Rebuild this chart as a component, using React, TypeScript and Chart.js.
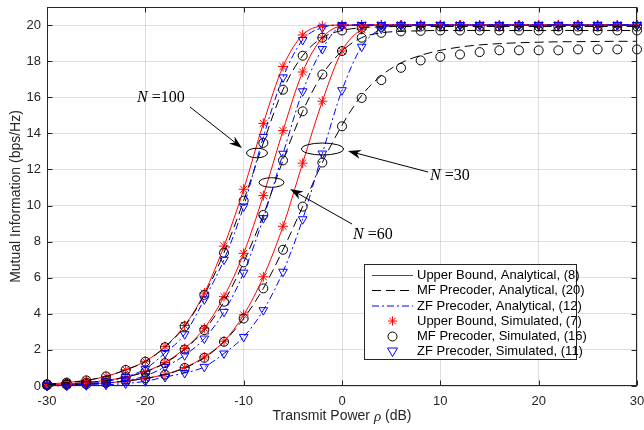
import React, { useEffect, useRef } from "react";
import { Chart, registerables } from "chart.js";
Chart.register(...registerables);

// Transmit power (dB)
const xValues = [-30, -28, -26, -24, -22, -20, -18, -16, -14, -12, -10, -8, -6, -4, -2, 0, 2, 4, 6, 8, 10, 12, 14, 16, 18, 20, 22, 24, 26, 28, 30];

// N = 100
const ub100 = [0.1, 0.19, 0.31, 0.53, 0.9, 1.37, 2.18, 3.35, 5.15, 7.75, 10.9, 14.55, 17.7, 19.45, 19.95, 20, 20, 20, 20, 20, 20, 20, 20, 20, 20, 20, 20, 20, 20, 20, 20];
const mf100 = [0.1, 0.19, 0.31, 0.53, 0.89, 1.35, 2.15, 3.3, 5.05, 7.38, 10.27, 13.47, 16.42, 18.3, 19.3, 19.7, 19.85, 19.9, 19.92, 19.92, 19.92, 19.92, 19.92, 19.92, 19.92, 19.92, 19.92, 19.92, 19.92, 19.92, 19.92];
const zf100 = [0.03, 0.06, 0.12, 0.25, 0.5, 0.95, 1.83, 2.87, 4.8, 7.0, 9.95, 13.8, 17.1, 19.17, 19.86, 20, 20, 20, 20, 20, 20, 20, 20, 20, 20, 20, 20, 20, 20, 20, 20];

// N = 60
const ub60 = [0.07, 0.12, 0.19, 0.31, 0.5, 0.8, 1.3, 2.08, 3.2, 4.95, 7.35, 10.55, 14.15, 17.4, 19.3, 19.95, 20, 20, 20, 20, 20, 20, 20, 20, 20, 20, 20, 20, 20, 20, 20];
const mf60 = [0.07, 0.12, 0.19, 0.3, 0.49, 0.78, 1.27, 2.02, 3.1, 4.67, 6.85, 9.48, 12.5, 15.22, 17.26, 18.56, 19.3, 19.57, 19.65, 19.68, 19.7, 19.7, 19.7, 19.7, 19.7, 19.7, 19.7, 19.7, 19.7, 19.7, 19.7];
const zf60 = [0.02, 0.04, 0.08, 0.15, 0.3, 0.55, 1.06, 1.7, 2.63, 4.11, 6.28, 9.3, 12.87, 16.33, 18.67, 19.94, 20, 20, 20, 20, 20, 20, 20, 20, 20, 20, 20, 20, 20, 20, 20];

// N = 30
const ub30 = [0.04, 0.065, 0.1, 0.17, 0.27, 0.42, 0.64, 1.02, 1.61, 2.48, 3.94, 6.05, 8.85, 12.35, 15.78, 18.56, 19.76, 20, 20, 20, 20, 20, 20, 20, 20, 20, 20, 20, 20, 20, 20];
const mf30Sim = [0.04, 0.065, 0.1, 0.17, 0.27, 0.42, 0.63, 1.0, 1.56, 2.45, 3.74, 5.41, 7.55, 9.94, 12.38, 14.39, 15.96, 16.95, 17.63, 18.04, 18.24, 18.37, 18.5, 18.6, 18.6, 18.6, 18.6, 18.65, 18.65, 18.65, 18.65];
const mf30Ana = [0.04, 0.065, 0.1, 0.17, 0.27, 0.42, 0.63, 1.0, 1.56, 2.45, 3.74, 5.41, 7.55, 9.94, 12.38, 14.45, 16.1, 17.2, 17.9, 18.32, 18.6, 18.78, 18.9, 18.97, 19.02, 19.05, 19.07, 19.08, 19.09, 19.1, 19.1];
const zf30 = [0.01, 0.02, 0.04, 0.07, 0.14, 0.26, 0.5, 0.72, 1.06, 1.8, 2.72, 4.2, 6.33, 9.24, 12.88, 16.39, 18.8, 19.8, 20, 20, 20, 20, 20, 20, 20, 20, 20, 20, 20, 20, 20];

const xTicks = [-30, -20, -10, 0, 10, 20, 30];
const yTicks = [0, 2, 4, 6, 8, 10, 12, 14, 16, 18, 20];

const legendLabels = [
  "Upper Bound, Analytical, (8)",
  "MF Precoder, Analytical, (20)",
  "ZF Precoder, Analytical, (12)",
  "Upper Bound, Simulated, (7)",
  "MF Precoder, Simulated, (16)",
  "ZF Precoder, Simulated, (11)",
];

const RED = "#ff0000";
const BLACK = "#000000";
const BLUE = "#0000ff";
const AX = "#262626";
const SANS = "'Liberation Sans', Arial, Helvetica, sans-serif";
const SERIF = "'Liberation Serif', 'Times New Roman', serif";
const DASH = [9, 5];
const DASHDOT = [7, 3, 2, 3];

const pts = (arr: number[]) => xValues.map((x, i) => ({ x, y: arr[i] }));

const lineDs = (arr: number[], color: string, dash: number[]) => ({
  data: pts(arr),
  borderColor: color,
  borderWidth: 1,
  borderDash: dash,
  pointRadius: 0,
  showLine: true,
  fill: false,
  cubicInterpolationMode: "monotone",
  clip: false,
});

const markDs = (arr: number[], color: string, style: string, radius: number, rot: number) => ({
  data: pts(arr),
  borderColor: color,
  backgroundColor: "rgba(0,0,0,0)",
  pointBorderColor: color,
  pointBackgroundColor: "rgba(0,0,0,0)",
  pointBorderWidth: 1,
  pointStyle: style,
  pointRadius: radius,
  pointRotation: rot,
  showLine: false,
  clip: false,
});

function arrow(ctx: CanvasRenderingContext2D, x1: number, y1: number, x2: number, y2: number) {
  const ang = Math.atan2(y2 - y1, x2 - x1);
  const L = 13, W = 4.5;
  const bx = x2 - L * Math.cos(ang), by = y2 - L * Math.sin(ang);
  ctx.beginPath();
  ctx.moveTo(x1, y1);
  ctx.lineTo(bx + 4 * Math.cos(ang), by + 4 * Math.sin(ang));
  ctx.stroke();
  ctx.beginPath();
  ctx.moveTo(x2, y2);
  ctx.lineTo(bx + W * Math.sin(ang), by - W * Math.cos(ang));
  ctx.lineTo(bx + 4 * Math.cos(ang), by + 4 * Math.sin(ang));
  ctx.lineTo(bx - W * Math.sin(ang), by + W * Math.cos(ang));
  ctx.closePath();
  ctx.fill();
}

function label(ctx: CanvasRenderingContext2D, x: number, y: number, txt: string) {
  ctx.font = `italic 16px ${SERIF}`;
  ctx.textAlign = "left";
  ctx.textBaseline = "alphabetic";
  ctx.fillText("N", x, y);
  const w = ctx.measureText("N").width;
  ctx.font = `16px ${SERIF}`;
  ctx.fillText(" =" + txt, x + w, y);
}

const decor = {
  id: "decor",
  afterDatasetsDraw(chart: any) {
    const ctx: CanvasRenderingContext2D = chart.ctx;
    ctx.save();
    ctx.strokeStyle = "#000";
    ctx.fillStyle = "#000";
    ctx.lineWidth = 1;
    ctx.setLineDash([]);
    const ell = (cx: number, cy: number, rx: number, ry: number) => {
      ctx.beginPath();
      ctx.ellipse(cx, cy, rx, ry, 0, 0, Math.PI * 2);
      ctx.stroke();
    };
    ell(257, 153, 10.5, 4.8);
    ell(271.5, 182.5, 12.5, 4.8);
    ell(322.5, 149, 21, 6);
    arrow(ctx, 190, 107, 242, 148);
    arrow(ctx, 352, 224, 290, 189);
    arrow(ctx, 428, 172, 348, 151);
    label(ctx, 137, 102, "100");
    label(ctx, 353, 239, "60");
    label(ctx, 430, 180, "30");
    ctx.restore();
  },
  afterDraw(chart: any) {
    const ctx: CanvasRenderingContext2D = chart.ctx;
    const a = chart.chartArea;
    const xs = chart.scales.x;
    const ys = chart.scales.y;
    ctx.save();
    ctx.setLineDash([]);
    ctx.strokeStyle = AX;
    ctx.lineWidth = 1;
    const L = Math.round(a.left) + 0.5, R = Math.round(a.right) - 0.5;
    const T = Math.round(a.top) + 0.5, B = Math.round(a.bottom) - 0.5;
    ctx.strokeRect(L, T, R - L, B - T);
    ctx.beginPath();
    xTicks.forEach((v) => {
      const px = Math.round(xs.getPixelForValue(v)) + 0.5;
      ctx.moveTo(px, B); ctx.lineTo(px, B - 5);
      ctx.moveTo(px, T); ctx.lineTo(px, T + 5);
    });
    yTicks.forEach((v) => {
      const py = Math.round(ys.getPixelForValue(v)) + 0.5;
      ctx.moveTo(L, py); ctx.lineTo(L + 5, py);
      ctx.moveTo(R, py); ctx.lineTo(R - 5, py);
    });
    ctx.stroke();

    // axis titles
    ctx.fillStyle = AX;
    ctx.font = `14px ${SANS}`;
    ctx.textBaseline = "middle";
    ctx.textAlign = "center";
    ctx.save();
    ctx.translate(16, (a.top + a.bottom) / 2);
    ctx.rotate(-Math.PI / 2);
    ctx.fillText("Mutual Information (bps/Hz)", 0, 0);
    ctx.restore();
    const p1 = "Transmit Power ";
    const p2 = "\u03C1";
    const p3 = " (dB)";
    ctx.font = `14px ${SANS}`;
    const w1 = ctx.measureText(p1).width;
    const w3 = ctx.measureText(p3).width;
    ctx.font = `italic 15px ${SERIF}`;
    const w2 = ctx.measureText(p2).width;
    const total = w1 + w2 + w3;
    const sx = (a.left + a.right) / 2 - total / 2;
    const ty = 416;
    ctx.textAlign = "left";
    ctx.font = `14px ${SANS}`;
    ctx.fillText(p1, sx, ty);
    ctx.font = `italic 15px ${SERIF}`;
    ctx.fillText(p2, sx + w1, ty + 1);
    ctx.font = `14px ${SANS}`;
    ctx.fillText(p3, sx + w1 + w2, ty);

    // legend
    const lx = 364.5, ly = 264.5, lw = 212, lh = 95;
    ctx.fillStyle = "#fff";
    ctx.fillRect(lx, ly, lw, lh);
    ctx.strokeStyle = AX;
    ctx.strokeRect(lx, ly, lw, lh);
    const rows = [275.5, 290.5, 306, 321, 336.5, 351.5];
    const colors = [RED, BLACK, BLUE, RED, BLACK, BLUE];
    const dashes = [[], DASH, DASHDOT];
    for (let i = 0; i < 6; i++) {
      const y = rows[i];
      ctx.strokeStyle = colors[i];
      ctx.lineWidth = 1;
      if (i < 3) {
        ctx.setLineDash(dashes[i]);
        ctx.beginPath();
        ctx.moveTo(372, y); ctx.lineTo(413, y);
        ctx.stroke();
        ctx.setLineDash([]);
      } else {
        ctx.beginPath();
        const cx = 392.5;
        if (i === 3) {
          const r = 4.5;
          ctx.moveTo(cx - r, y); ctx.lineTo(cx + r, y);
          ctx.moveTo(cx, y - r); ctx.lineTo(cx, y + r);
          const d = r * Math.SQRT1_2;
          ctx.moveTo(cx - d, y - d); ctx.lineTo(cx + d, y + d);
          ctx.moveTo(cx - d, y + d); ctx.lineTo(cx + d, y - d);
        } else if (i === 4) {
          ctx.arc(cx, y, 4.5, 0, Math.PI * 2);
        } else {
          ctx.moveTo(cx - 5, y - 3.5); ctx.lineTo(cx + 5, y - 3.5); ctx.lineTo(cx, y + 5); ctx.closePath();
        }
        ctx.stroke();
      }
      ctx.fillStyle = "#000";
      ctx.font = `13px ${SANS}`;
      ctx.textAlign = "left";
      ctx.textBaseline = "middle";
      ctx.fillText(legendLabels[i], 417, y);
    }
    ctx.restore();
  },
};

export default function App() {
  const ref = useRef<HTMLCanvasElement>(null);
  useEffect(() => {
    const canvas = ref.current!;
    const chart = new Chart(canvas, {
      type: "line",
      data: {
        datasets: [
          lineDs(zf100, BLUE, DASHDOT),
          lineDs(zf60, BLUE, DASHDOT),
          lineDs(zf30, BLUE, DASHDOT),
          lineDs(mf100, BLACK, DASH),
          lineDs(mf60, BLACK, DASH),
          lineDs(mf30Ana, BLACK, DASH),
          lineDs(ub100, RED, []),
          lineDs(ub60, RED, []),
          lineDs(ub30, RED, []),
          markDs(zf100, BLUE, "triangle", 5, 180),
          markDs(zf60, BLUE, "triangle", 5, 180),
          markDs(zf30, BLUE, "triangle", 5, 180),
          markDs(mf100, BLACK, "circle", 4.5, 0),
          markDs(mf60, BLACK, "circle", 4.5, 0),
          markDs(mf30Sim, BLACK, "circle", 4.5, 0),
          markDs(ub100, RED, "star", 5, 0),
          markDs(ub60, RED, "star", 5, 0),
          markDs(ub30, RED, "star", 5, 0),
        ] as any,
      },
      options: {
        animation: false,
        responsive: true,
        maintainAspectRatio: false,
        layout: { padding: { left: 0, top: 7, right: 7, bottom: 0 } },
        plugins: { legend: { display: false }, tooltip: { enabled: false } },
        scales: {
          x: {
            type: "linear",
            min: -30,
            max: 30,
            afterFit: (s: any) => {
              s.height = 44;
              s.paddingLeft = 0; s.paddingRight = 0; s.paddingTop = 0; s.paddingBottom = 0;
            },
            border: { display: false },
            grid: { color: "rgba(38,38,38,0.15)", drawTicks: false },
            ticks: {
              stepSize: 10,
              maxRotation: 0,
              padding: 8,
              color: AX,
              font: { family: SANS, size: 13 },
            },
          },
          y: {
            type: "linear",
            min: 0,
            max: 21,
            afterFit: (s: any) => {
              s.width = 47;
              s.paddingLeft = 0; s.paddingRight = 0; s.paddingTop = 0; s.paddingBottom = 0;
            },
            border: { display: false },
            grid: {
              color: (c: any) => (c.tick && c.tick.value > 20 ? "rgba(0,0,0,0)" : "rgba(38,38,38,0.15)"),
              drawTicks: false,
            },
            ticks: {
              stepSize: 2,
              padding: 6,
              color: AX,
              font: { family: SANS, size: 13 },
              callback: (v: any) => (v > 20 ? "" : String(v)),
            },
          },
        },
      } as any,
      plugins: [decor as any],
    });
    return () => chart.destroy();
  }, []);
  return (
    <div style={{ position: "absolute", left: 0, top: 0, width: 644, height: 430 }}>
      <canvas ref={ref} />
    </div>
  );
}
